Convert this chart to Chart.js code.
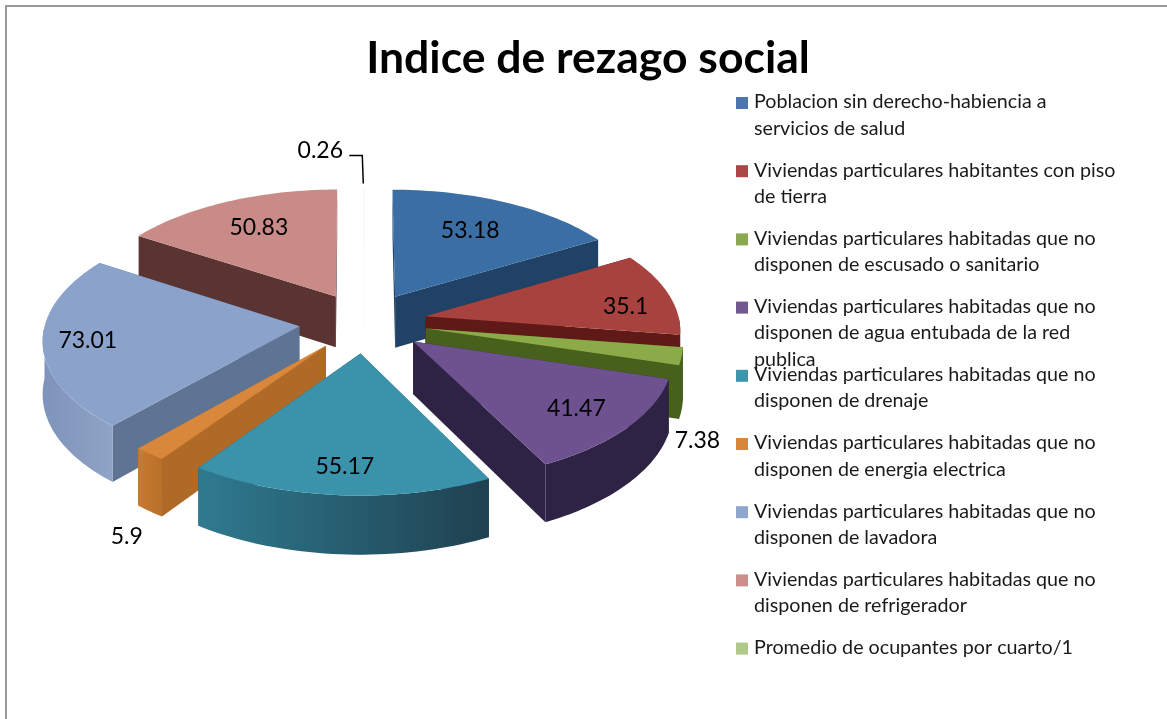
<!DOCTYPE html>
<html lang="es">
<head>
<meta charset="UTF-8" />
<title>Indice de rezago social</title>
<script src="https://cdn.jsdelivr.net/npm/chart.js@4"></script>
<style>
  html, body { margin: 0; padding: 0; background: #fff; }
  #wrap { position: relative; width: 1167px; height: 719px; overflow: hidden; }
  #frame { position: absolute; left: 5px; top: 5px; width: 1170px; height: 730px; border: 2px solid #999; }
</style>
</head>
<body>
<div id="wrap">
  <div id="frame"></div>
  <canvas id="pie" width="1167" height="719"></canvas>
</div>
<script>
const chartTitle = "Indice de rezago social";
const categories = [
  ["Poblacion sin derecho-habiencia a", "servicios de salud"],
  ["Viviendas particulares habitantes con piso", "de tierra"],
  ["Viviendas particulares habitadas que no", "disponen de escusado o sanitario"],
  ["Viviendas particulares habitadas que no", "disponen de agua entubada de la red", "publica"],
  ["Viviendas particulares habitadas que no", "disponen de drenaje"],
  ["Viviendas particulares habitadas que no", "disponen de energia electrica"],
  ["Viviendas particulares habitadas que no", "disponen de lavadora"],
  ["Viviendas particulares habitadas que no", "disponen de refrigerador"],
  ["Promedio de ocupantes por cuarto/1"],
];
const values = [53.18, 35.1, 7.38, 41.47, 55.17, 5.9, 73.01, 50.83, 0.26];

// styles per slice
const legendColors = ["#4a76ad", "#ab4745", "#8aa84f", "#71588f", "#3b96ae", "#d9853a", "#8fa6cf", "#cd8f8c", "#afc98a"];
const topColors = ["#3b6ea5", "#a8423f", "#8bab48", "#6e528f", "#3a93ab", "#d9873a", "#8ba2cb", "#c98b88", "#f4f8ee"];
const sideColors = ["#1f4266", "#5f1a18", "#47601c", "#2e2344", "#24596b", "#b06a28", "#5f7393", "#5a3433", "#f4f8ee"];
const wallLeft = ["#1f4266", "#6a1f1c", "#47601c", "#2e2344", "#2f7a90", "#c87a30", "#7f94ba", "#5a3433", "#f4f8ee"];
const wallRight = ["#1f4266", "#5f1a18", "#47601c", "#2e2344", "#1f4150", "#b87029", "#8fa3c6", "#5a3433", "#f4f8ee"];
const explode = [62, 62, 62, 62, 64, 62, 66, 62, 62];
// label position: fraction of the radius, then a small nudge in px
const labelFrac = [0.6, 0.78, 1.03, 0.76, 0.78, 1.15, 0.83, 0.62, 1.0];
const labelNudge = [[6, -8], [10, 8], [8, 83], [3, 3], [0, 5], [6, 65], [1, 0], [-8, -8], [-44, -36]];

// fake 3D projection
const pieX = 365, pieY = 322, tilt = 0.48, persp = 0.00038, depth = 52;

function project(X, Z, z) {
  const p = 1 / (1 + persp * Z);
  return [pieX + X * p, pieY - tilt * Z * p + z * p];
}

function slicePoints(arc, off) {
  const a0 = arc.startAngle + Math.PI / 2, a1 = arc.endAngle + Math.PI / 2, mid = (a0 + a1) / 2;
  const tx = off * Math.sin(mid), tz = off * Math.cos(mid), R = arc.outerRadius;
  return {
    a0, a1, mid, tz,
    tip: (z) => project(tx, tz, z),
    rim: (a, r, z) => project(tx + r * Math.sin(a), tz + r * Math.cos(a), z),
    R,
  };
}

function fillPath(ctx, pts, fill) {
  ctx.beginPath();
  pts.forEach((q, i) => (i ? ctx.lineTo(q[0], q[1]) : ctx.moveTo(q[0], q[1])));
  ctx.closePath();
  ctx.fillStyle = fill;
  ctx.fill();
}

function arcSamples(s, a0, a1, z) {
  const out = [];
  for (let i = 0; i <= 40; i++) out.push(s.rim(a0 + (a1 - a0) * i / 40, s.R, z));
  return out;
}

const pie3d = {
  id: "pie3d",
  beforeDatasetsDraw(chart) {
    const ctx = chart.ctx;
    const arcs = chart.getDatasetMeta(0).data;
    const order = arcs.map((arc, i) => ({ arc, i, s: slicePoints(arc, explode[i]) })).sort((a, b) => b.s.tz - a.s.tz);
    order.forEach(({ arc, i, s }) => {
      // side faces
      [s.a0, s.a1].forEach((a) => {
        fillPath(ctx, [s.tip(0), s.rim(a, s.R, 0), s.rim(a, s.R, depth), s.tip(depth)], sideColors[i]);
      });
      // outer wall, only the part facing us
      const from = Math.max(s.a0, Math.PI / 2), to = Math.min(s.a1, 1.5 * Math.PI);
      if (to > from) {
        const upper = arcSamples(s, from, to, 0), lower = arcSamples(s, from, to, depth).reverse();
        const g = ctx.createLinearGradient(upper[40][0], 0, upper[0][0], 0);
        g.addColorStop(0, wallLeft[i]);
        g.addColorStop(1, wallRight[i]);
        fillPath(ctx, upper.concat(lower), g);
      }
      // top face
      fillPath(ctx, [s.tip(0)].concat(arcSamples(s, s.a0, s.a1, 0)), arc.options.backgroundColor);
    });
    // value labels
    ctx.fillStyle = "#000";
    ctx.font = "23px Lato";
    ctx.textAlign = "center";
    ctx.textBaseline = "middle";
    order.forEach(({ i, s }) => {
      const q = s.rim(s.mid, s.R * labelFrac[i], 0);
      const lx = q[0] + labelNudge[i][0], ly = q[1] + labelNudge[i][1];
      ctx.fillText(String(values[i]), lx, ly);
      if (i === 8) {
        // leader line of the tiny slice
        const r = s.rim(s.mid, s.R, 0);
        ctx.beginPath();
        ctx.moveTo(lx + 29, ly + 5);
        ctx.lineTo(r[0] - 2, ly + 5);
        ctx.lineTo(r[0] - 1, r[1] - 3);
        ctx.strokeStyle = "#000";
        ctx.lineWidth = 1.5;
        ctx.stroke();
      }
    });
    return false;
  },
  afterDraw(chart) {
    // legend is hand drawn: the purple entry overflows its slot in the original
    const ctx = chart.ctx;
    ctx.font = "19.7px Lato";
    ctx.textAlign = "left";
    ctx.textBaseline = "middle";
    categories.forEach((lines, i) => {
      const y = 102 + i * 68.2;
      ctx.fillStyle = legendColors[i];
      ctx.fillRect(736, y - 5, 12, 12);
      ctx.fillStyle = "#1a1a1a";
      lines.forEach((t, j) => ctx.fillText(t, 754, y + j * 26.3));
    });
  },
};

new Chart(document.getElementById("pie"), {
  type: "pie",
  data: {
    labels: categories.map((c) => c.join(" ")),
    datasets: [{ data: values, backgroundColor: topColors, offset: explode, borderWidth: 0 }],
  },
  options: {
    responsive: false,
    animation: false,
    radius: 254,
    layout: { padding: { left: 9, top: 32 } },
    plugins: {
      legend: { display: false },
      tooltip: { enabled: false },
      title: {
        display: true,
        text: chartTitle,
        color: "#000",
        font: { family: "Lato", size: 44.5, weight: "bold" },
        padding: 0,
      },
    },
  },
  plugins: [pie3d],
});
</script>
</body>
</html>
